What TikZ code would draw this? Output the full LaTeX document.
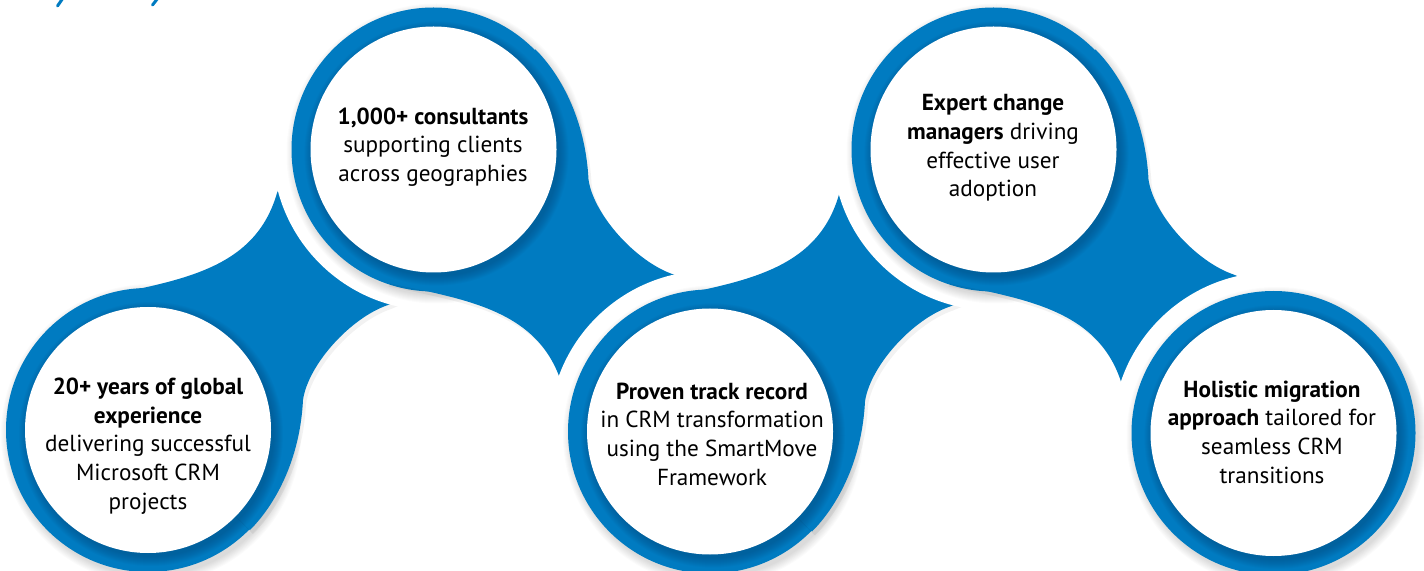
\documentclass[tikz,border=0pt]{standalone}
\usepackage{fontspec}
\setmainfont{PT Sans}
\usetikzlibrary{calc}
\definecolor{cblue}{RGB}{0,123,193}
\definecolor{cdark}{RGB}{0,55,100}
\newcommand\connpath{(-48,-133) .. controls (32,-150) and (107,-160) .. (129,-237) -- (135,-251) -- (252,-130) -- (240,-125) .. controls (202,-112) and (160,-65) .. (155,-30) .. controls (152,30) and (127,75) .. (102,100) -- (0,0) -- cycle}
\newcommand\halo[1]{\fill[white] (#1) circle[radius=161];}
\newcommand\bluedisc[1]{%
  \foreach \k in {1,...,9}{\fill[black,opacity=0.016] ($(#1)+(3,4)$) circle[radius=141+\k];}
  \fill[cblue] (#1) circle[radius=142];}
\newcommand\whitedisc[1]{%
  \foreach \k in {1,...,10}{\fill[cdark,opacity=0.04] ($(#1)+(3,4)$) circle[radius=122+\k];}
  \fill[white] (#1) circle[radius=123];}
\newcommand\conn[2]{%
  \begin{scope}[shift={(3,4)}]\begin{scope}[shift={(#1)},yscale=#2]
    \fill[black,opacity=0.05] \connpath;
  \end{scope}\end{scope}
  \begin{scope}[shift={(#1)},yscale=#2]
    \fill[cblue] \connpath;
  \end{scope}}
\begin{document}
\begin{tikzpicture}[x=0.5pt,y=-0.5pt,
  txt/.style={align=center,text=black,font=\fontsize{11.6}{14.35}\selectfont}]
\useasboundingbox (0,0) rectangle (1424,571);
\fill[white] (0,0) rectangle (1424,571);
\coordinate (c1) at (148,430);
\coordinate (c2) at (433.5,149.5);
\coordinate (c3) at (710,431.5);
\coordinate (c4) at (993.5,149.5);
\coordinate (c5) at (1273.5,433);
% title fragments
\draw[cblue,line width=1.5pt,line cap=round] (63,-2) -- (57.5,6);
\draw[cblue,line width=1.5pt,line cap=round] (158,-2) -- (152.5,5);
% circle 1
\bluedisc{c1}
\conn{148,430}{1}
\whitedisc{c1}
% circle 2
\halo{c2}
\bluedisc{c2}
\conn{433.5,149.5}{-1}
\whitedisc{c2}
% circle 3
\halo{c3}
\bluedisc{c3}
\conn{710,431.5}{1}
\whitedisc{c3}
% circle 4
\halo{c4}
\bluedisc{c4}
\conn{993.5,149.5}{-1}
\whitedisc{c4}
% circle 5
\halo{c5}
\bluedisc{c5}
\whitedisc{c5}
% texts
\node[txt] (t1) at (148,446) {\textbf{20+ years of global}\\\textbf{experience}\\delivering successful\\Microsoft CRM\\projects};
\node[txt] (t2) at (433,147) {\textbf{1,000+ consultants}\\supporting clients\\across geographies};
\node[txt] (t3) at (712,434) {\textbf{Proven track record}\\in CRM transformation\\using the SmartMove\\Framework};
\node[txt] (t4) at (993,148) {\textbf{Expert change}\\\textbf{managers} driving\\effective user\\adoption};
\node[txt] (t5) at (1272,432) {\textbf{Holistic migration}\\\textbf{approach} tailored for\\seamless CRM\\transitions};
\end{tikzpicture}
\end{document}
